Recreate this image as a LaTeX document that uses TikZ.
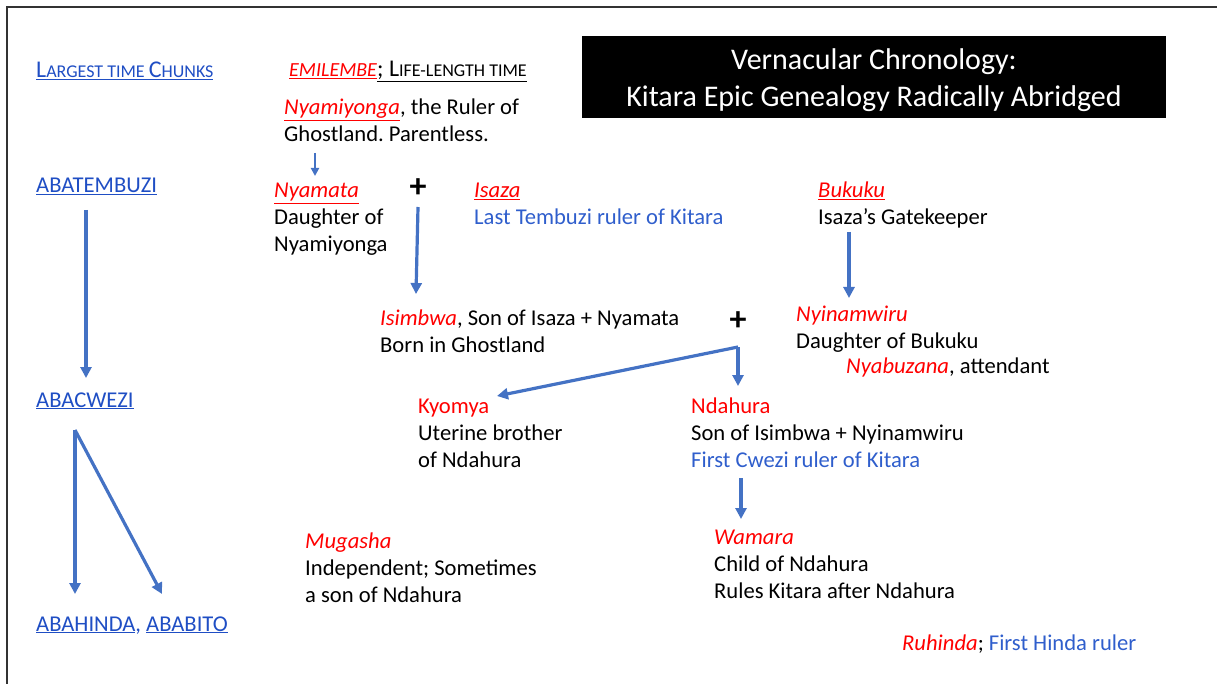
\documentclass[tikz,border=0pt]{standalone}
\usepackage{fontspec}
\setmainfont{Carlito}
\usetikzlibrary{arrows.meta,calc}
\frenchspacing

\definecolor{linkblue}{RGB}{31,78,196}
\definecolor{txtblue}{RGB}{47,94,204}
\definecolor{arrblue}{RGB}{68,114,196}
\definecolor{epicred}{RGB}{255,0,0}

% red names, plain or underlined
\newcommand{\nm}[1]{\textcolor{epicred}{\textit{#1}}}
\newcommand{\unm}[1]{\textcolor{epicred}{\underline{\textit{#1}}}}
% hand made small caps
\newcommand{\bigc}[1]{{\fontsize{24}{27}\selectfont #1}}
\newcommand{\smc}[1]{{\fontsize{18}{27}\selectfont #1}}

\begin{document}
\begin{tikzpicture}[x=1pt,y=-1pt,
  txt/.style={anchor=base west,inner sep=0pt,align=left,font=\fontsize{22.6}{27}\selectfont},
  era/.style={anchor=base west,inner sep=0pt,text=linkblue,font=\fontsize{22.6}{27}\selectfont},
  arr/.style={draw=arrblue,line width=3.2pt,-{Triangle[length=11pt,width=11pt]}}]
  \useasboundingbox (0,0) rectangle (1217,684);
  \draw[line width=2pt,black!80] (1217,7) -- (7,7) -- (7,684);
  % title
  \fill (582,36) rectangle (1166,118);
  \node[text=white,align=center,font=\fontsize{30}{37}\selectfont] (title) at (874,80)
    {Vernacular Chronology:\\Kitara Epic Genealogy Radically Abridged};
  % time chunks on the left
  \node[era] (chunks) at (36,78) {\underline{\bigc{L}\smc{ARGEST TIME }\bigc{C}\smc{HUNKS}}};
  \node[era] (abatembuzi) at (36,193) {\underline{ABATEMBUZI}};
  \node[era] (abacwezi) at (36,407) {\underline{ABACWEZI}};
  \node[era] (abahinda) at (36,631) {\underline{ABAHINDA}, \underline{ABABITO}};
  % people (base = last line)
  \node[anchor=base west,inner sep=0pt] (emilembe) at (289,77)
    {\textcolor{epicred}{\underline{\fontsize{20}{24}\selectfont\textit{EMILEMBE}}}\underline{\bigc{; L}\smc{IFE-LENGTH TIME}}};
  \node[txt] (nyamiyonga) at (284,142) {\unm{Nyamiyonga}, the Ruler of\\Ghostland. Parentless.};
  \node[txt] (nyamata) at (274,252) {\unm{Nyamata}\\Daughter of\\Nyamiyonga};
  \node[font=\fontsize{34}{36}\selectfont\bfseries] (plusa) at (418,188) {+};
  \node[txt] (isaza) at (474,225) {\unm{Isaza}\\\textcolor{txtblue}{Last Tembuzi ruler of Kitara}};
  \node[txt] (bukuku) at (818,225) {\unm{Bukuku}\\Isaza’s Gatekeeper};
  \node[txt] (isimbwa) at (380,352) {\nm{Isimbwa}, Son of Isaza + Nyamata\\Born in Ghostland};
  \node[font=\fontsize{34}{36}\selectfont\bfseries] (plusb) at (738,321) {+};
  \node[txt] (nyinamwiru) at (796,348) {\nm{Nyinamwiru}\\Daughter of Bukuku};
  \node[txt] (nyabuzana) at (846,373) {\nm{Nyabuzana}, attendant};
  \node[txt] (kyomya) at (418,467) {\textcolor{epicred}{Kyomya}\\Uterine brother\\of Ndahura};
  \node[txt] (ndahura) at (691,467) {\textcolor{epicred}{Ndahura}\\Son of Isimbwa + Nyinamwiru\\\textcolor{txtblue}{First Cwezi ruler of Kitara}};
  \node[txt] (mugasha) at (305,602) {\nm{Mugasha}\\Independent; Sometimes\\a son of Ndahura};
  \node[txt] (wamara) at (714,598) {\nm{Wamara}\\Child of Ndahura\\Rules Kitara after Ndahura};
  \node[txt] (ruhinda) at (902,650) {\nm{Ruhinda}; \textcolor{txtblue}{First Hinda ruler}};
  % connectors
  \coordinate (jn) at ($(plusb)+(0,26)$);
  \coordinate (fork) at ($(abacwezi.base west)+(39,23)$);
  \draw[arr,line width=2pt,-{Triangle[length=8pt,width=8pt]}]
    ($(nyamiyonga.base west)+(31,11)$) -- ($(nyamata.base west)+(41,-76)$);
  \draw[arr] ($(abatembuzi.base west)+(50,17)$) -- ($(abacwezi.base west)+(50,-29)$);
  \draw[arr] ($(plusa)+(0,19)$) -- ($(isimbwa.base west)+(36,-58)$);
  \draw[arr] ($(bukuku.base west)+(31,7)$) -- ($(nyinamwiru.base west)+(53,-50)$);
  \draw[arr] (jn) -- ($(kyomya.base west)+(79,-71)$);
  \draw[arr] (jn) -- ($(ndahura.base west)+(47,-81)$);
  \draw[arr] ($(ndahura.base west)+(50,11)$) -- ($(wamara.base west)+(27,-79)$);
  \draw[arr] (fork) -- ($(abahinda.base west)+(39,-37)$);
  \draw[arr] (fork) -- ($(abahinda.base west)+(126,-37)$);
\end{tikzpicture}
\end{document}
